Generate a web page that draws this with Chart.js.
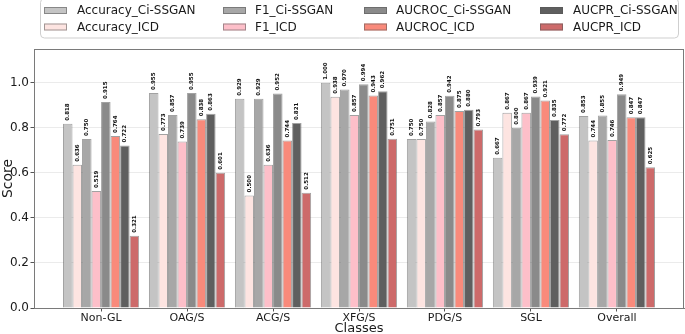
<!DOCTYPE html>
<html>
<head>
<meta charset="utf-8">
<script src="https://cdn.jsdelivr.net/npm/chart.js@4.4.1/dist/chart.umd.min.js"></script>
<style>
  html, body { margin: 0; padding: 0; background: #ffffff; overflow: hidden; }
  #wrap { width: 685px; height: 334px; position: relative; }
</style>
</head>
<body>
<div id="wrap"><canvas id="c" width="685" height="334"></canvas></div>
<script>
// ---- data ----
const categories = ["Non-GL", "OAG/S", "ACG/S", "XFG/S", "PDG/S", "SGL", "Overall"];
const accuracyCi  = [0.818, 0.955, 0.929, 1.000, 0.750, 0.667, 0.853];
const accuracyICD = [0.636, 0.773, 0.500, 0.938, 0.750, 0.867, 0.744];
const f1Ci        = [0.750, 0.857, 0.929, 0.970, 0.828, 0.800, 0.855];
const f1ICD       = [0.519, 0.739, 0.636, 0.857, 0.857, 0.867, 0.746];
const aucrocCi    = [0.915, 0.955, 0.952, 0.994, 0.942, 0.939, 0.949];
const aucrocICD   = [0.764, 0.838, 0.744, 0.943, 0.875, 0.921, 0.847];
const aucprCi     = [0.722, 0.863, 0.821, 0.962, 0.880, 0.835, 0.847];
const aucprICD    = [0.321, 0.601, 0.512, 0.751, 0.793, 0.772, 0.625];
const yTicks = [0.0, 0.2, 0.4, 0.6, 0.8, 1.0];

const seriesNames = ["Accuracy_Ci-SSGAN", "Accuracy_ICD", "F1_Ci-SSGAN", "F1_ICD",
                     "AUCROC_Ci-SSGAN", "AUCROC_ICD", "AUCPR_Ci-SSGAN", "AUCPR_ICD"];
const seriesValues = [accuracyCi, accuracyICD, f1Ci, f1ICD, aucrocCi, aucrocICD, aucprCi, aucprICD];
const seriesColors = ["#c4c4c4", "#fde4e1", "#a7a7a7", "#fdbfc9",
                      "#8a8a8a", "#f98a7b", "#5f5f5f", "#cd6a6a"];

const FONT = "'DejaVu Sans', sans-serif";

const datasets = seriesNames.map((name, s) => ({
  label: name,
  data: seriesValues[s].map((v, i) => ({ x: i, y: v })),
  backgroundColor: seriesColors[s],
  borderColor: "rgba(85,85,85,0.55)",
  borderWidth: 1,
  barPercentage: 1.0,
  categoryPercentage: 0.886
}));

// value labels above bars
const valueLabels = {
  id: "valueLabels",
  afterDatasetsDraw(chart) {
    const ctx = chart.ctx;
    ctx.save();
    ctx.fillStyle = "#111";
    ctx.font = "bold 5.5px " + FONT;
    ctx.textAlign = "left";
    ctx.textBaseline = "middle";
    chart.data.datasets.forEach((ds, di) => {
      const meta = chart.getDatasetMeta(di);
      meta.data.forEach((el, i) => {
        const v = ds.data[i].y;
        ctx.save();
        ctx.translate(el.x, el.y - 3);
        ctx.rotate(-Math.PI / 2);
        ctx.fillText(v.toFixed(3), 0, 0);
        ctx.restore();
      });
    });
    ctx.restore();
  }
};

// frame around plot (top/right spines)
const frame = {
  id: "frame",
  afterDraw(chart) {
    const { left, right, top, bottom } = chart.chartArea;
    const ctx = chart.ctx;
    ctx.save();
    ctx.strokeStyle = "#7a7a7a";
    ctx.lineWidth = 1;
    ctx.strokeRect(Math.round(left) + 0.5, Math.round(top) + 0.5,
                   Math.round(right - left) - 1, Math.round(bottom - top));
    ctx.restore();
  }
};

// boxed legend, two rows x four columns
const boxLegend = {
  id: "boxLegend",
  afterDraw(chart) {
    const ctx = chart.ctx;
    ctx.save();
    const bx = 40.5, by = -1.5, bw = 638, bh = 39.5, r = 4;
    ctx.beginPath();
    ctx.moveTo(bx + r, by);
    ctx.lineTo(bx + bw - r, by);
    ctx.arcTo(bx + bw, by, bx + bw, by + r, r);
    ctx.lineTo(bx + bw, by + bh - r);
    ctx.arcTo(bx + bw, by + bh, bx + bw - r, by + bh, r);
    ctx.lineTo(bx + r, by + bh);
    ctx.arcTo(bx, by + bh, bx, by + bh - r, r);
    ctx.lineTo(bx, by + r);
    ctx.arcTo(bx, by, bx + r, by, r);
    ctx.closePath();
    ctx.fillStyle = "rgba(255,255,255,0.9)";
    ctx.fill();
    ctx.strokeStyle = "#cfcfcf";
    ctx.lineWidth = 1;
    ctx.stroke();

    const patchX = [44, 223, 364, 540];
    const textX  = [77, 255, 396, 573];
    const rowY   = [10.5, 27];
    ctx.font = "12px " + FONT;
    ctx.textBaseline = "middle";
    ctx.textAlign = "left";
    chart.data.datasets.forEach((ds, di) => {
      const col = Math.floor(di / 2);
      const row = di % 2;
      const px = patchX[col], py = rowY[row];
      ctx.fillStyle = ds.backgroundColor;
      ctx.fillRect(px, py - 3.5, 23, 7);
      ctx.strokeStyle = "rgba(85,85,85,0.55)";
      ctx.strokeRect(px + 0.5, py - 3.5 + 0.5, 22, 6);
      ctx.fillStyle = "#1a1a1a";
      ctx.fillText(ds.label, textX[col], py + 0.5);
    });
    ctx.restore();
  }
};

new Chart(document.getElementById("c"), {
  type: "bar",
  data: { datasets },
  plugins: [valueLabels, frame, boxLegend],
  options: {
    responsive: false,
    devicePixelRatio: 1,
    animation: false,
    layout: { padding: { top: 49, right: 1, left: 0, bottom: 0 } },
    plugins: {
      legend: { display: false },
      tooltip: { enabled: false }
    },
    scales: {
      x: {
        type: "linear",
        offset: false,
        min: -0.78,
        max: categories.length - 1 + 0.78,
        afterBuildTicks: (axis) => { axis.ticks = categories.map((c, i) => ({ value: i })); },
        afterFit: (axis) => { axis.height = 26; },
        ticks: {
          autoSkip: false,
          maxRotation: 0,
          padding: 0,
          color: "#1a1a1a",
          font: { family: FONT, size: 11 },
          callback: (v) => categories[v] !== undefined ? categories[v] : ""
        },
        grid: { offset: false, drawOnChartArea: false, drawTicks: true, tickLength: 3.5, tickColor: "#555" },
        border: { color: "#7a7a7a", width: 1 },
        title: {
          display: true, text: "Classes", color: "#1a1a1a",
          font: { family: FONT, size: 13 }, padding: { top: 0, bottom: -2 }
        }
      },
      y: {
        min: 0,
        max: 1.15,
        afterBuildTicks: (axis) => { axis.ticks = yTicks.map(v => ({ value: v })); },
        afterFit: (axis) => { axis.width = 34; },
        ticks: {
          padding: 1.5,
          color: "#1a1a1a",
          font: { family: FONT, size: 12 },
          callback: (v) => Number(v).toFixed(1)
        },
        grid: { color: "#ebebeb", lineWidth: 1, tickLength: 3.5, tickColor: "#555" },
        border: { color: "#7a7a7a", width: 1 },
        title: {
          display: true, text: "Score", color: "#1a1a1a",
          font: { family: FONT, size: 14 }, padding: { top: 0, bottom: 0 }
        }
      }
    }
  }
});
</script>
</body>
</html>
